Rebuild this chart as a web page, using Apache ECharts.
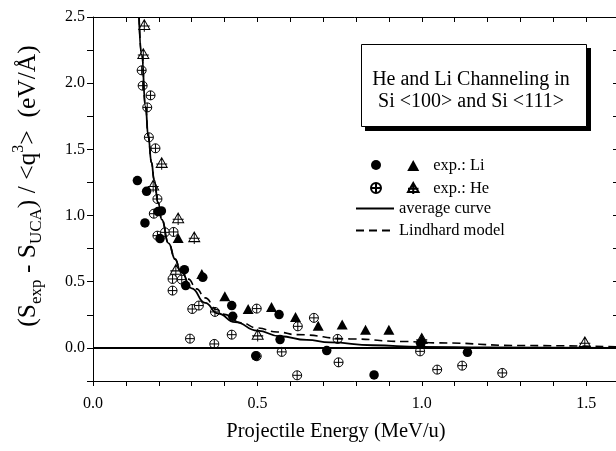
<!DOCTYPE html>
<html>
<head>
<meta charset="utf-8">
<script src="https://cdn.jsdelivr.net/npm/echarts@6/dist/echarts.min.js"></script>
<style>
  html, body { margin: 0; padding: 0; background: #fff; }
  #chart { width: 616px; height: 451px; }
</style>
</head>
<body>
<div id="chart"></div>
<script>
// values: [energy (MeV/u), (Sexp - Suca)/<q^3> (eV/A)]
const liCircles = [
  [0.135, 1.264], [0.163, 1.183], [0.158, 0.944], [0.198, 1.03], [0.208, 1.035],
  [0.204, 0.826], [0.278, 0.591], [0.282, 0.471], [0.334, 0.533], [0.422, 0.32],
  [0.425, 0.239], [0.566, 0.252], [0.569, 0.063], [0.495, -0.06], [0.711, -0.02],
  [0.855, -0.204], [0.997, 0.032], [1.139, -0.033]
]
const liTriangles = [
  [0.259, 0.831], [0.331, 0.559], [0.401, 0.39], [0.472, 0.294], [0.543, 0.31],
  [0.616, 0.234], [0.685, 0.168], [0.758, 0.176], [0.829, 0.138], [0.9, 0.138],
  [1.0, 0.07]
]
const heCircles = [
  [0.148, 2.097], [0.151, 1.981], [0.175, 1.908], [0.165, 1.817], [0.17, 1.591],
  [0.19, 1.508], [0.196, 1.125], [0.185, 1.014], [0.196, 0.848], [0.219, 0.873],
  [0.245, 0.876], [0.242, 0.521], [0.27, 0.516], [0.242, 0.433], [0.302, 0.294],
  [0.322, 0.32], [0.371, 0.272], [0.422, 0.1], [0.295, 0.07], [0.369, 0.03],
  [0.498, 0.297], [0.498, -0.063], [0.574, -0.03], [0.623, 0.163], [0.672, 0.227],
  [0.744, 0.068], [0.747, -0.109], [0.621, -0.207], [0.995, -0.026], [1.047, -0.164],
  [1.123, -0.134], [1.245, -0.189]
]
const heTriangles = [
  [0.156, 2.434], [0.153, 2.215], [0.209, 1.392], [0.183, 1.221], [0.259, 0.974],
  [0.308, 0.831], [0.252, 0.584], [0.501, 0.093], [1.0, 0.063], [1.496, 0.038]
]
const averageCurve = [
  [0.14, 2.5], [0.148, 2.215], [0.16, 1.82], [0.168, 1.6], [0.178, 1.4],
  [0.186, 1.27], [0.198, 1.1], [0.209, 0.97], [0.23, 0.79], [0.25, 0.67],
  [0.265, 0.59], [0.3, 0.45], [0.341, 0.34], [0.38, 0.26], [0.432, 0.195],
  [0.5, 0.13], [0.569, 0.088], [0.65, 0.06], [0.721, 0.042], [0.85, 0.02],
  [1.0, 0.008], [1.2, 0.003], [1.6, 0.0]
]
const lindhardCurve = [
  [0.14, 2.5], [0.148, 2.215], [0.16, 1.82], [0.168, 1.6], [0.178, 1.4],
  [0.186, 1.27], [0.198, 1.1], [0.209, 0.97], [0.23, 0.79], [0.25, 0.67],
  [0.265, 0.59], [0.29, 0.52], [0.315, 0.446], [0.341, 0.378], [0.376, 0.29],
  [0.396, 0.255], [0.45, 0.19], [0.5, 0.15], [0.56, 0.12], [0.62, 0.1],
  [0.78, 0.068], [0.95, 0.048], [1.05, 0.038], [1.3, 0.018], [1.6, 0.008]
]
const legendNames = { 'Li triangles': 'exp.: Li', 'He triangles': 'exp.: He' }

const serif = 'Liberation Serif'
const circlePlus = 'path://M0,10 A10,10 0 1,1 20,10 A10,10 0 1,1 0,10 Z M10,0 L10,20 M0,10 L20,10'
const trianglePlus = 'path://M10,0 L20,17 L0,17 Z M10,0 L10,21 M0,11 L20,11'
const black = '#000'
const isHalf = v => Math.abs(v * 2 - Math.round(v * 2)) < 1e-6
const hiddenSplit = { show: true, lineStyle: { opacity: 0 } }
const legendFont = { fontFamily: serif, fontSize: 16.5, fill: black }

// box with drop shadow, top right
const boxGraphic = [
  { type: 'rect', shape: { x: 365, y: 48, width: 226, height: 83 }, style: { fill: black }, silent: true },
  { type: 'rect', shape: { x: 361.5, y: 44.5, width: 225, height: 82 }, style: { fill: '#fff', stroke: black, lineWidth: 1 }, silent: true },
  {
    type: 'text', x: 471, y: 91, silent: true,
    style: {
      text: 'He and Li Channeling in\nSi <100> and Si <111>',
      align: 'center', verticalAlign: 'middle', lineHeight: 22,
      fontFamily: serif, fontSize: 20, fill: black
    }
  }
]

// hand-drawn legend, used only if the legend component breaks the axes
const legendGraphic = [
  { type: 'circle', shape: { cx: 375, cy: 164, r: 4.75 }, style: { fill: black }, silent: true },
  { type: 'polygon', shape: { points: [[412, 159], [417.5, 169], [406.5, 169]] }, style: { fill: black }, silent: true },
  { type: 'text', x: 433, y: 164, silent: true, style: Object.assign({ text: 'exp.: Li', verticalAlign: 'middle' }, legendFont) },
  { type: 'circle', shape: { cx: 375, cy: 187, r: 4.5 }, style: { fill: '#fff', stroke: black, lineWidth: 1 }, silent: true },
  { type: 'line', shape: { x1: 375, y1: 182.5, x2: 375, y2: 191.5 }, style: { stroke: black, lineWidth: 1 }, silent: true },
  { type: 'line', shape: { x1: 370.5, y1: 187, x2: 379.5, y2: 187 }, style: { stroke: black, lineWidth: 1 }, silent: true },
  { type: 'polygon', shape: { points: [[412, 181], [417.5, 190.5], [406.5, 190.5]] }, style: { fill: '#fff', stroke: black, lineWidth: 1 }, silent: true },
  { type: 'line', shape: { x1: 412, y1: 181, x2: 412, y2: 193 }, style: { stroke: black, lineWidth: 1 }, silent: true },
  { type: 'line', shape: { x1: 406, y1: 187, x2: 418, y2: 187 }, style: { stroke: black, lineWidth: 1 }, silent: true },
  { type: 'text', x: 433, y: 187, silent: true, style: Object.assign({ text: 'exp.: He', verticalAlign: 'middle' }, legendFont) },
  { type: 'line', shape: { x1: 355, y1: 208, x2: 393, y2: 208 }, style: { stroke: black, lineWidth: 1.8 }, silent: true },
  { type: 'text', x: 398, y: 208, silent: true, style: Object.assign({ text: 'average curve', verticalAlign: 'middle' }, legendFont) },
  { type: 'line', shape: { x1: 355, y1: 229, x2: 393, y2: 229 }, style: { stroke: black, lineWidth: 1.6, lineDash: [8, 5] }, silent: true },
  { type: 'text', x: 398, y: 229, silent: true, style: Object.assign({ text: 'Lindhard model', verticalAlign: 'middle' }, legendFont) }
]

const legendComponents = [
  {
    left: 365, top: 155, orient: 'vertical', itemGap: 12,
    itemWidth: 10, itemHeight: 10, selectedMode: false,
    data: ['Li circles', 'He circles'],
    formatter: () => '',
    textStyle: { fontFamily: serif, fontSize: 16.5, lineHeight: 10 }
  },
  {
    left: 402, top: 152, orient: 'vertical',
    itemWidth: 12, itemHeight: 11, itemGap: 6, selectedMode: false,
    data: ['Li triangles', 'He triangles'],
    formatter: name => legendNames[name],
    textStyle: { color: black, fontFamily: serif, fontSize: 16.5, lineHeight: 16, padding: [0, 0, 0, 9] }
  },
  {
    left: 350, top: 195, orient: 'vertical', itemGap: 5,
    itemWidth: 38, itemHeight: 14, selectedMode: false,
    data: ['average curve', 'Lindhard model'],
    itemStyle: { opacity: 0 },
    textStyle: { color: black, fontFamily: serif, fontSize: 16.5, lineHeight: 16 }
  }
]

function buildOption(v) {
  const heStyle = v.pathSymbols
    ? { color: '#fff', borderColor: black, borderWidth: 1, opacity: 1 }
    : { color: black, borderColor: black, borderWidth: 1, opacity: 1 }
  return {
    animation: false,
    backgroundColor: '#fff',
    grid: { left: 93, top: 17, width: 526, height: 364, outerBoundsMode: 'none' },
    xAxis: [
      {
        type: 'value', position: 'bottom', min: 0, max: 1.6, interval: 0.1,
        name: 'Projectile Energy (MeV/u)', nameLocation: 'middle', nameGap: 40,
        nameTextStyle: { fontFamily: serif, fontSize: 20.5, color: black, padding: [0, 40, 0, 0] },
        axisLine: { show: true, onZero: false, lineStyle: { color: black, width: 1 } },
        axisTick: { show: true, inside: false, length: 5, lineStyle: { color: black } },
        axisLabel: {
          show: true, color: black, fontFamily: serif, fontSize: 16, margin: 15,
          formatter: val => isHalf(val) ? val.toFixed(1) : ''
        },
        splitLine: hiddenSplit
      },
      {
        type: 'value', position: 'top', min: 0, max: 1.6, interval: 0.1,
        axisLine: { show: true, onZero: false, lineStyle: { color: black, width: 1 } },
        axisTick: { show: true, inside: true, length: 5, lineStyle: { color: black } },
        axisLabel: { show: false },
        splitLine: hiddenSplit
      }
    ],
    yAxis: [
      {
        type: 'value', position: 'left', min: -0.25, max: 2.5, interval: 0.25,
        name: '{n|(S}{sub|exp}{n| - S}{sub|UCA}{n|) / <q}{sup|3}{n|>  (eV/Å)}',
        nameLocation: 'middle', nameRotate: 90, nameGap: 48,
        nameTextStyle: {
          padding: [0, 0, 0, 26],
          rich: {
            n: { fontFamily: serif, fontSize: 25.5, lineHeight: 34, verticalAlign: 'middle', color: black },
            sub: { fontFamily: serif, fontSize: 17, lineHeight: 21, verticalAlign: 'bottom', color: black },
            sup: { fontFamily: serif, fontSize: 16, lineHeight: 16, verticalAlign: 'top', color: black }
          }
        },
        axisLine: { show: true, onZero: false, lineStyle: { color: black, width: 1 } },
        axisTick: { show: true, inside: false, length: 6, lineStyle: { color: black } },
        axisLabel: {
          show: true, color: black, fontFamily: serif, fontSize: 16, margin: 8,
          formatter: val => isHalf(val) ? val.toFixed(1) : ''
        },
        splitLine: hiddenSplit
      },
      {
        type: 'value', position: 'right', min: -0.25, max: 2.5, interval: 0.25,
        axisLine: { show: true, onZero: false, lineStyle: { color: black, width: 1 } },
        axisTick: { show: true, inside: true, length: 6, lineStyle: { color: black } },
        axisLabel: { show: false },
        splitLine: hiddenSplit
      }
    ],
    legend: v.legendComponent ? legendComponents : [],
    graphic: v.legendComponent ? boxGraphic : boxGraphic.concat(legendGraphic),
    series: [
      {
        name: 'average curve', type: 'line', data: averageCurve,
        smooth: true, smoothMonotone: 'x', symbol: 'none',
        lineStyle: { color: black, width: 1.8 },
        itemStyle: { color: black },
        markLine: {
          silent: true, symbol: 'none', label: { show: false },
          lineStyle: { color: black, width: 2, type: 'solid' },
          data: [{ yAxis: 0 }]
        }
      },
      {
        name: 'Lindhard model', type: 'line', data: lindhardCurve,
        smooth: true, smoothMonotone: 'x', symbol: 'none',
        lineStyle: { color: black, width: 1.6, type: v.dashArray ? [8, 5] : 'dashed' },
        itemStyle: { color: black }
      },
      {
        name: 'He circles', type: 'scatter', data: heCircles,
        symbol: v.pathSymbols ? circlePlus : 'emptyCircle', symbolSize: 9,
        itemStyle: heStyle
      },
      {
        name: 'He triangles', type: 'scatter', data: heTriangles,
        symbol: v.pathSymbols ? trianglePlus : 'emptyTriangle', symbolSize: [11, 12],
        itemStyle: heStyle
      },
      {
        name: 'Li circles', type: 'scatter', data: liCircles,
        symbol: 'circle', symbolSize: 9.5,
        itemStyle: { color: black, opacity: 1 }
      },
      {
        name: 'Li triangles', type: 'scatter', data: liTriangles,
        symbol: 'triangle', symbolSize: [11, 10],
        itemStyle: { color: black, opacity: 1 }
      }
    ]
  }
}

// checks on the painted canvas that the axis ticks and the bottom axis line came out
function axesDrawn(chart) {
  chart.getZr().refreshImmediately()
  const canvas = chart.getDom().querySelector('canvas')
  const ctx = canvas.getContext('2d')
  const r = canvas.width / chart.getWidth()
  const dark = (x, y, w, h) => {
    const d = ctx.getImageData(Math.round(x * r), Math.round(y * r), Math.max(1, Math.round(w * r)), Math.max(1, Math.round(h * r))).data
    let min = 765
    for (let i = 0; i < d.length; i += 4) min = Math.min(min, d[i] + d[i + 1] + d[i + 2])
    return min < 400
  }
  const yTick = chart.convertToPixel({ yAxisIndex: 0 }, 1.0)
  const xTick = chart.convertToPixel({ xAxisIndex: 0 }, 0.3)
  return dark(88, yTick - 1, 3, 3) && dark(xTick - 1, 383, 3, 3)
}

const dom = document.getElementById('chart')
const variants = [
  { legendComponent: true, pathSymbols: true, dashArray: true },
  { legendComponent: false, pathSymbols: true, dashArray: true },
  { legendComponent: true, pathSymbols: false, dashArray: true },
  { legendComponent: true, pathSymbols: true, dashArray: false },
  { legendComponent: false, pathSymbols: false, dashArray: false }
]
let chart = null
let chosen = null
for (const v of variants) {
  try {
    if (chart) chart.dispose()
    chart = echarts.init(dom)
    chart.setOption(buildOption(v))
    if (axesDrawn(chart)) { chosen = v; break }
  } catch (e) {}
}
if (!chosen) {
  if (chart) chart.dispose()
  chart = echarts.init(dom)
  chart.setOption(buildOption(variants[0]))
}
</script>
</body>
</html>
